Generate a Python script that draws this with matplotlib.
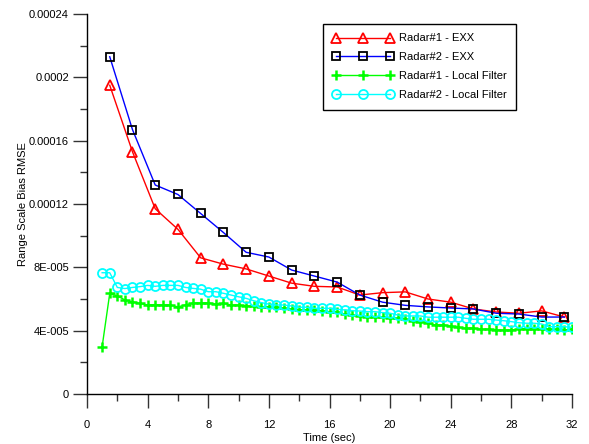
import numpy as np
import matplotlib
matplotlib.use("Agg")
import matplotlib.pyplot as plt
from matplotlib.ticker import MultipleLocator

plt.rcParams['font.family'] = ['Liberation Sans', 'DejaVu Sans']

# datos EXX (cada 1.5 s)
t_exx = [1.5, 3, 4.5, 6, 7.5, 9, 10.5, 12, 13.5, 15, 16.5, 18, 19.5, 21,
         22.5, 24, 25.5, 27, 28.5, 30, 31.5]
radar1_exx = [19.5, 15.3, 11.7, 10.4, 8.6, 8.2, 7.9, 7.45, 7.0, 6.8, 6.76,
              6.25, 6.4, 6.45, 6.0, 5.8, 5.37, 5.18, 5.1, 5.25, 4.86]
radar2_exx = [21.3, 16.7, 13.2, 12.6, 11.4, 10.2, 8.95, 8.65, 7.83, 7.45,
              7.07, 6.25, 5.8, 5.6, 5.5, 5.43, 5.37, 5.1, 5.05, 4.86, 4.86]

# datos filtro local (cada 0.5 s)
t_local = np.arange(1, 32.5, 0.5)
radar1_local = [3.0, 6.35, 6.2, 5.94, 5.82, 5.72, 5.62, 5.65, 5.62, 5.62,
                5.5, 5.63, 5.75, 5.75, 5.75, 5.68, 5.72, 5.62, 5.62, 5.56,
                5.56, 5.52, 5.52, 5.48, 5.41, 5.35, 5.31, 5.31, 5.31, 5.26,
                5.2, 5.17, 5.05, 4.99, 4.93, 4.88, 4.84, 4.84, 4.78, 4.78,
                4.72, 4.63, 4.57, 4.46, 4.36, 4.36, 4.29, 4.21, 4.15, 4.15,
                4.09, 4.09, 4.04, 4.04, 4.04, 4.1, 4.12, 4.12, 4.12, 4.09,
                4.09, 4.04, 4.09]
radar2_local = [7.66, 7.66, 6.73, 6.66, 6.73, 6.78, 6.86, 6.8, 6.86, 6.86,
                6.86, 6.73, 6.67, 6.62, 6.46, 6.46, 6.36, 6.25, 6.14, 6.04,
                5.89, 5.77, 5.68, 5.62, 5.62, 5.56, 5.48, 5.48, 5.41, 5.41,
                5.41, 5.35, 5.31, 5.26, 5.24, 5.2, 5.2, 5.14, 5.1, 4.99,
                4.93, 4.93, 4.93, 4.85, 4.85, 4.85, 4.85, 4.85, 4.78, 4.72,
                4.72, 4.72, 4.67, 4.63, 4.57, 4.5, 4.47, 4.47, 4.42, 4.25,
                4.25, 4.25, 4.21]

escala = 1e-5
y_ticks = [0, 4e-5, 8e-5, 12e-5, 16e-5, 20e-5, 24e-5]
y_labels = ['0', '4E-005', '8E-005', '0.00012', '0.00016', '0.0002', '0.00024']

fig = plt.figure(figsize=(5.89, 4.44), dpi=100)
ax = fig.add_axes([87/589, 1-394/444, (572-87)/589, (394-14)/444])

ax.plot(t_exx, np.array(radar1_exx)*escala, color='#ff0000', lw=1,
        marker='^', ms=6.5, mfc='none', mec='#ff0000', mew=1.3,
        label='Radar#1 - EXX')
ax.plot(t_exx, np.array(radar2_exx)*escala, color='#0000ff', lw=1,
        marker='s', ms=5.8, mfc='none', mec='black', mew=1.3,
        label='Radar#2 - EXX')
ax.plot(t_local, np.array(radar1_local)*escala, color='#00ff00', lw=1,
        marker='+', ms=7.5, mec='#00ff00', mew=1.8,
        label='Radar#1 - Local Filter')
ax.plot(t_local, np.array(radar2_local)*escala, color='#00ffff', lw=1,
        marker='o', ms=6.5, mfc='none', mec='#00ffff', mew=1.3,
        label='Radar#2 - Local Filter')

ax.set_xlim(0, 32)
ax.set_ylim(0, 24e-5)
ax.set_xticks(range(0, 33, 4))
ax.xaxis.set_minor_locator(MultipleLocator(2))
ax.set_yticks(y_ticks)
ax.set_yticklabels(y_labels)
ax.yaxis.set_minor_locator(MultipleLocator(2e-5))
ax.tick_params(which='major', length=10, width=1, labelsize=8, color='#333333')
ax.tick_params(which='minor', length=5, width=1, color='#333333')
ax.tick_params(axis='x', pad=9)
ax.tick_params(axis='y', pad=3)

for s in ['top', 'right']:
    ax.spines[s].set_visible(False)
for s in ['left', 'bottom']:
    ax.spines[s].set_linewidth(1)
    ax.spines[s].set_color('black')

ax.set_xlabel('Time (sec)', fontsize=8, labelpad=2)
ax.set_ylabel('Range Scale Bias RMSE', fontsize=8, labelpad=1)

leg = ax.legend(loc='upper left', bbox_to_anchor=(323/589, 1-24/444),
                bbox_transform=fig.transFigure, borderaxespad=0,
                fontsize=8, numpoints=3, handlelength=5.5, handletextpad=0.5,
                labelspacing=0.8, fancybox=False, framealpha=1,
                edgecolor='black', borderpad=0.85)
leg.get_frame().set_linewidth(1)

fig.savefig('out.png', dpi=100)
